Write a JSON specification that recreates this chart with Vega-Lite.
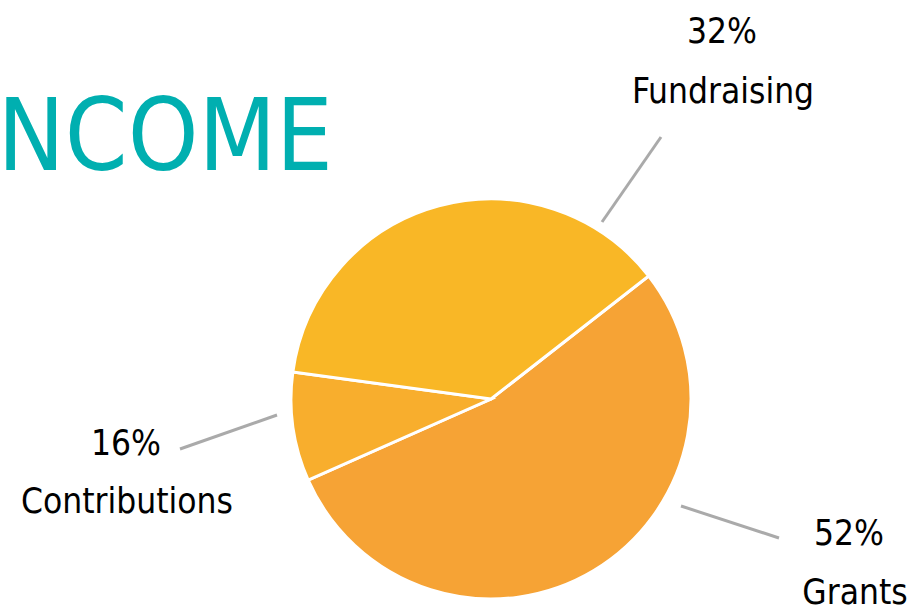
{
  "$schema": "https://vega.github.io/schema/vega-lite/v6.json",
  "width": 400,
  "height": 400,
  "autosize": {"type": "none"},
  "padding": {"left": 291, "top": 199, "right": 228, "bottom": 12},
  "background": "white",
  "config": {"view": {"stroke": null}},
  "datasets": {
    "slices": [
      {"category": "Grants", "share": 53.9, "pct": "52%", "rank": 1},
      {"category": "Contributions", "share": 8.8, "pct": "16%", "rank": 2},
      {"category": "Fundraising", "share": 37.3, "pct": "32%", "rank": 3}
    ],
    "leaders": [
      {"category": "Fundraising", "x1": 0.555, "y1": 0.885, "x2": 0.85, "y2": 1.31},
      {"category": "Contributions", "x1": -1.555, "y1": -0.25, "x2": -1.07, "y2": -0.08},
      {"category": "Grants", "x1": 0.95, "y1": -0.535, "x2": 1.44, "y2": -0.695}
    ],
    "labels": [
      {"text": "32%", "x": 1.155, "y": 1.78},
      {"text": "Fundraising", "x": 1.16, "y": 1.48},
      {"text": "16%", "x": -1.825, "y": -0.28},
      {"text": "Contributions", "x": -1.82, "y": -0.57},
      {"text": "52%", "x": 1.79, "y": -0.73},
      {"text": "Grants", "x": 1.82, "y": -1.025}
    ],
    "heading": [
      {"text": "INCOME", "x": -2.6, "y": 1.145}
    ]
  },
  "layer": [
    {
      "data": {"name": "slices"},
      "mark": {"type": "arc", "stroke": "white", "strokeWidth": 3, "radius": 200},
      "encoding": {
        "theta": {"field": "share", "type": "quantitative", "stack": true, "scale": {"range": [0.9084, 7.1916]}},
        "color": {
          "field": "category",
          "type": "nominal",
          "scale": {"domain": ["Grants", "Contributions", "Fundraising"], "range": ["#F6A335", "#F8AE2D", "#F9B726"]},
          "legend": null
        },
        "order": {"field": "rank", "type": "quantitative"}
      }
    },
    {
      "data": {"name": "leaders"},
      "mark": {"type": "rule", "stroke": "#AAAAAA", "strokeWidth": 3},
      "encoding": {
        "x": {"field": "x1", "type": "quantitative", "scale": {"domain": [-1, 1], "nice": false, "zero": false}, "axis": null},
        "y": {"field": "y1", "type": "quantitative", "scale": {"domain": [-1, 1], "nice": false, "zero": false}, "axis": null},
        "x2": {"field": "x2"},
        "y2": {"field": "y2"}
      }
    },
    {
      "data": {"name": "labels"},
      "mark": {"type": "text", "font": "DejaVu Sans Condensed", "fontSize": 35, "align": "center", "baseline": "alphabetic", "color": "#000000"},
      "encoding": {
        "x": {"field": "x", "type": "quantitative", "scale": {"domain": [-1, 1], "nice": false, "zero": false}, "axis": null},
        "y": {"field": "y", "type": "quantitative", "scale": {"domain": [-1, 1], "nice": false, "zero": false}, "axis": null},
        "text": {"field": "text"}
      }
    },
    {
      "data": {"name": "heading"},
      "mark": {"type": "text", "font": "DejaVu Sans Condensed", "fontSize": 100, "align": "left", "baseline": "alphabetic", "color": "#00AFB0"},
      "encoding": {
        "x": {"field": "x", "type": "quantitative", "scale": {"domain": [-1, 1], "nice": false, "zero": false}, "axis": null},
        "y": {"field": "y", "type": "quantitative", "scale": {"domain": [-1, 1], "nice": false, "zero": false}, "axis": null},
        "text": {"field": "text"}
      }
    }
  ]
}
